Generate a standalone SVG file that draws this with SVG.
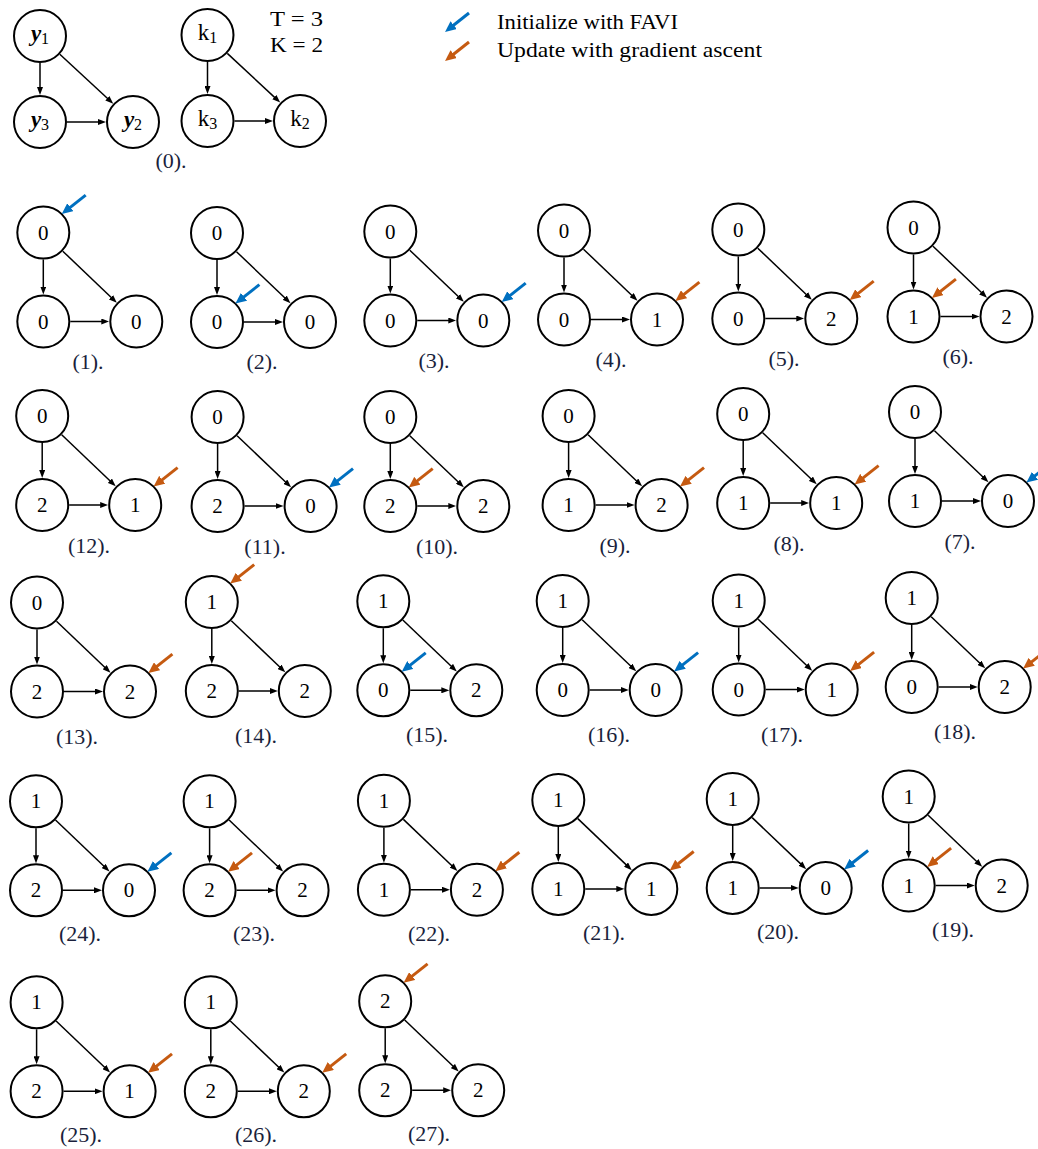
<svg xmlns="http://www.w3.org/2000/svg" width="1038" height="1149" viewBox="0 0 1038 1149">
<style>
.n circle{fill:#fff;stroke:#000;stroke-width:2}
.n text{font-family:"Liberation Serif",serif;font-size:21px;text-anchor:middle;fill:#000}
.n text.v{font-size:23px}
.e{stroke:#000;stroke-width:1.5;fill:none;marker-end:url(#ah)}
.hb{stroke:#0070C0;stroke-width:3;marker-end:url(#mb)}
.ho{stroke:#C55A11;stroke-width:3;marker-end:url(#mo)}
.lbl{font-family:"Liberation Serif",serif;font-size:22px;fill:#1A1F3C;text-anchor:middle}
.leg{font-family:"Liberation Serif",serif;font-size:22px;fill:#000}
.tk{font-family:"Liberation Serif",serif;font-size:21px;fill:#000}
</style>
<defs>
<marker id="ah" markerWidth="8" markerHeight="6" refX="4" refY="3" orient="auto" markerUnits="userSpaceOnUse"><path d="M0,0 L8,3 L0,6 z" fill="#000"/></marker>
<marker id="mb" markerWidth="11" markerHeight="10" refX="3" refY="5" orient="auto" markerUnits="userSpaceOnUse"><path d="M0,0 L11,5 L0,10 z" fill="#0070C0"/></marker>
<marker id="mo" markerWidth="11" markerHeight="10" refX="3" refY="5" orient="auto" markerUnits="userSpaceOnUse"><path d="M0,0 L11,5 L0,10 z" fill="#C55A11"/></marker>
</defs>

<!-- Panel 0 -->
<g id="panel-0">
<g class="connectors">
<line class="e" x1="40" y1="63" x2="40" y2="91"/>
<line class="e" x1="67" y1="122" x2="102" y2="122"/>
<line class="e" x1="59.8" y1="54.3" x2="110.3" y2="101"/>
<line class="e" x1="207.5" y1="62" x2="207.5" y2="90"/>
<line class="e" x1="234.5" y1="121" x2="269" y2="121"/>
<line class="e" x1="227.3" y1="53.4" x2="277.3" y2="99.9"/>
</g>
<g id="y1" class="n" transform="translate(40,36)"><circle r="26"/><text class="v" y="5"><tspan font-weight="bold" font-style="italic">y</tspan><tspan font-size="16" dy="3">1</tspan></text></g>
<g id="y3" class="n" transform="translate(40,122)"><circle r="26"/><text class="v" y="5"><tspan font-weight="bold" font-style="italic">y</tspan><tspan font-size="16" dy="3">3</tspan></text></g>
<g id="y2" class="n" transform="translate(133,122)"><circle r="26"/><text class="v" y="5"><tspan font-weight="bold" font-style="italic">y</tspan><tspan font-size="16" dy="3">2</tspan></text></g>
<g id="k1" class="n" transform="translate(207.5,35)"><circle r="26"/><text class="v" y="5">k<tspan font-size="16" dy="3">1</tspan></text></g>
<g id="k3" class="n" transform="translate(207.5,121)"><circle r="26"/><text class="v" y="5">k<tspan font-size="16" dy="3">3</tspan></text></g>
<g id="k2" class="n" transform="translate(300,121)"><circle r="26"/><text class="v" y="5">k<tspan font-size="16" dy="3">2</tspan></text></g>
<text class="tk" x="270" y="26" textLength="53" lengthAdjust="spacingAndGlyphs">T = 3</text>
<text class="tk" x="270" y="52" textLength="53" lengthAdjust="spacingAndGlyphs">K = 2</text>
<text class="lbl" x="171" y="168">(0).</text>
</g>

<!-- Legend -->
<g id="legend">
<line class="hb" x1="469" y1="13" x2="451.3" y2="27"/>
<text class="leg" x="497" y="29" textLength="181" lengthAdjust="spacingAndGlyphs">Initialize with FAVI</text>
<line class="ho" x1="469" y1="42" x2="451.3" y2="56"/>
<text class="leg" x="497" y="57" textLength="265" lengthAdjust="spacingAndGlyphs">Update with gradient ascent</text>
</g>

<!-- Row 1 -->
<g id="panel-1" transform="translate(43.3,232.5)">
<g class="connectors"><line class="e" x1="0" y1="27" x2="0" y2="58"/><line class="e" x1="19.5" y1="18.7" x2="70.6" y2="67.5"/><line class="e" x1="27" y1="89" x2="62" y2="89"/></g>
<g id="p1-a" class="n"><circle r="26"/><text y="7">0</text></g>
<g id="p1-b" class="n" transform="translate(0,89)"><circle r="26"/><text y="7">0</text></g>
<g id="p1-c" class="n" transform="translate(93,89)"><circle r="26"/><text y="7">0</text></g>
<line class="hb" x1="42.4" y1="-37.4" x2="24.7" y2="-23.4"/>
<text class="lbl" x="44.7" y="136">(1).</text>
</g>
<g id="panel-2" transform="translate(217,233)">
<g class="connectors"><line class="e" x1="0" y1="27" x2="0" y2="58"/><line class="e" x1="19.5" y1="18.7" x2="70.6" y2="67.5"/><line class="e" x1="27" y1="89" x2="62" y2="89"/></g>
<g id="p2-a" class="n"><circle r="26"/><text y="7">0</text></g>
<g id="p2-b" class="n" transform="translate(0,89)"><circle r="26"/><text y="7">0</text></g>
<g id="p2-c" class="n" transform="translate(93,89)"><circle r="26"/><text y="7">0</text></g>
<line class="hb" x1="42.4" y1="51.6" x2="24.7" y2="65.6"/>
<text class="lbl" x="45" y="136">(2).</text>
</g>
<g id="panel-3" transform="translate(390.3,231.5)">
<g class="connectors"><line class="e" x1="0" y1="27" x2="0" y2="58"/><line class="e" x1="19.5" y1="18.7" x2="70.6" y2="67.5"/><line class="e" x1="27" y1="89" x2="62" y2="89"/></g>
<g id="p3-a" class="n"><circle r="26"/><text y="7">0</text></g>
<g id="p3-b" class="n" transform="translate(0,89)"><circle r="26"/><text y="7">0</text></g>
<g id="p3-c" class="n" transform="translate(93,89)"><circle r="26"/><text y="7">0</text></g>
<line class="hb" x1="135.4" y1="51.6" x2="117.7" y2="65.6"/>
<text class="lbl" x="43.7" y="136">(3).</text>
</g>
<g id="panel-4" transform="translate(564,230.5)">
<g class="connectors"><line class="e" x1="0" y1="27" x2="0" y2="58"/><line class="e" x1="19.5" y1="18.7" x2="70.6" y2="67.5"/><line class="e" x1="27" y1="89" x2="62" y2="89"/></g>
<g id="p4-a" class="n"><circle r="26"/><text y="7">0</text></g>
<g id="p4-b" class="n" transform="translate(0,89)"><circle r="26"/><text y="7">0</text></g>
<g id="p4-c" class="n" transform="translate(93,89)"><circle r="26"/><text y="7">1</text></g>
<line class="ho" x1="135.4" y1="51.6" x2="117.7" y2="65.6"/>
<text class="lbl" x="47" y="136">(4).</text>
</g>
<g id="panel-5" transform="translate(738.3,229.5)">
<g class="connectors"><line class="e" x1="0" y1="27" x2="0" y2="58"/><line class="e" x1="19.5" y1="18.7" x2="70.6" y2="67.5"/><line class="e" x1="27" y1="89" x2="62" y2="89"/></g>
<g id="p5-a" class="n"><circle r="26"/><text y="7">0</text></g>
<g id="p5-b" class="n" transform="translate(0,89)"><circle r="26"/><text y="7">0</text></g>
<g id="p5-c" class="n" transform="translate(93,89)"><circle r="26"/><text y="7">2</text></g>
<line class="ho" x1="135.4" y1="51.6" x2="117.7" y2="65.6"/>
<text class="lbl" x="45.7" y="136">(5).</text>
</g>
<g id="panel-6" transform="translate(913.5,227.5)">
<g class="connectors"><line class="e" x1="0" y1="27" x2="0" y2="58"/><line class="e" x1="19.5" y1="18.7" x2="70.6" y2="67.5"/><line class="e" x1="27" y1="89" x2="62" y2="89"/></g>
<g id="p6-a" class="n"><circle r="26"/><text y="7">0</text></g>
<g id="p6-b" class="n" transform="translate(0,89)"><circle r="26"/><text y="7">1</text></g>
<g id="p6-c" class="n" transform="translate(93,89)"><circle r="26"/><text y="7">2</text></g>
<line class="ho" x1="42.4" y1="51.6" x2="24.7" y2="65.6"/>
<text class="lbl" x="44.5" y="136">(6).</text>
</g>

<!-- Row 2 -->
<g id="panel-12" transform="translate(42.2,416)">
<g class="connectors"><line class="e" x1="0" y1="27" x2="0" y2="58"/><line class="e" x1="19.5" y1="18.7" x2="70.6" y2="67.5"/><line class="e" x1="27" y1="89" x2="62" y2="89"/></g>
<g id="p12-a" class="n"><circle r="26"/><text y="7">0</text></g>
<g id="p12-b" class="n" transform="translate(0,89)"><circle r="26"/><text y="7">2</text></g>
<g id="p12-c" class="n" transform="translate(93,89)"><circle r="26"/><text y="7">1</text></g>
<line class="ho" x1="135.4" y1="51.6" x2="117.7" y2="65.6"/>
<text class="lbl" x="46.8" y="137">(12).</text>
</g>
<g id="panel-11" transform="translate(217.6,417)">
<g class="connectors"><line class="e" x1="0" y1="27" x2="0" y2="58"/><line class="e" x1="19.5" y1="18.7" x2="70.6" y2="67.5"/><line class="e" x1="27" y1="89" x2="62" y2="89"/></g>
<g id="p11-a" class="n"><circle r="26"/><text y="7">0</text></g>
<g id="p11-b" class="n" transform="translate(0,89)"><circle r="26"/><text y="7">2</text></g>
<g id="p11-c" class="n" transform="translate(93,89)"><circle r="26"/><text y="7">0</text></g>
<line class="hb" x1="135.4" y1="51.6" x2="117.7" y2="65.6"/>
<text class="lbl" x="47.4" y="137">(11).</text>
</g>
<g id="panel-10" transform="translate(390.3,417)">
<g class="connectors"><line class="e" x1="0" y1="27" x2="0" y2="58"/><line class="e" x1="19.5" y1="18.7" x2="70.6" y2="67.5"/><line class="e" x1="27" y1="89" x2="62" y2="89"/></g>
<g id="p10-a" class="n"><circle r="26"/><text y="7">0</text></g>
<g id="p10-b" class="n" transform="translate(0,89)"><circle r="26"/><text y="7">2</text></g>
<g id="p10-c" class="n" transform="translate(93,89)"><circle r="26"/><text y="7">2</text></g>
<line class="ho" x1="42.4" y1="51.6" x2="24.7" y2="65.6"/>
<text class="lbl" x="46.7" y="137">(10).</text>
</g>
<g id="panel-9" transform="translate(568.6,416)">
<g class="connectors"><line class="e" x1="0" y1="27" x2="0" y2="58"/><line class="e" x1="19.5" y1="18.7" x2="70.6" y2="67.5"/><line class="e" x1="27" y1="89" x2="62" y2="89"/></g>
<g id="p9-a" class="n"><circle r="26"/><text y="7">0</text></g>
<g id="p9-b" class="n" transform="translate(0,89)"><circle r="26"/><text y="7">1</text></g>
<g id="p9-c" class="n" transform="translate(93,89)"><circle r="26"/><text y="7">2</text></g>
<line class="ho" x1="135.4" y1="51.6" x2="117.7" y2="65.6"/>
<text class="lbl" x="46.4" y="137">(9).</text>
</g>
<g id="panel-8" transform="translate(743.2,414)">
<g class="connectors"><line class="e" x1="0" y1="27" x2="0" y2="58"/><line class="e" x1="19.5" y1="18.7" x2="70.6" y2="67.5"/><line class="e" x1="27" y1="89" x2="62" y2="89"/></g>
<g id="p8-a" class="n"><circle r="26"/><text y="7">0</text></g>
<g id="p8-b" class="n" transform="translate(0,89)"><circle r="26"/><text y="7">1</text></g>
<g id="p8-c" class="n" transform="translate(93,89)"><circle r="26"/><text y="7">1</text></g>
<line class="ho" x1="135.4" y1="51.6" x2="117.7" y2="65.6"/>
<text class="lbl" x="45.8" y="137">(8).</text>
</g>
<g id="panel-7" transform="translate(915,412)">
<g class="connectors"><line class="e" x1="0" y1="27" x2="0" y2="58"/><line class="e" x1="19.5" y1="18.7" x2="70.6" y2="67.5"/><line class="e" x1="27" y1="89" x2="62" y2="89"/></g>
<g id="p7-a" class="n"><circle r="26"/><text y="7">0</text></g>
<g id="p7-b" class="n" transform="translate(0,89)"><circle r="26"/><text y="7">1</text></g>
<g id="p7-c" class="n" transform="translate(93,89)"><circle r="26"/><text y="7">0</text></g>
<line class="hb" x1="135.4" y1="51.6" x2="117.7" y2="65.6"/>
<text class="lbl" x="45" y="137">(7).</text>
</g>

<!-- Row 3 -->
<g id="panel-13" transform="translate(37,602.5)">
<g class="connectors"><line class="e" x1="0" y1="27" x2="0" y2="58"/><line class="e" x1="19.5" y1="18.7" x2="70.6" y2="67.5"/><line class="e" x1="27" y1="89" x2="62" y2="89"/></g>
<g id="p13-a" class="n"><circle r="26"/><text y="7">0</text></g>
<g id="p13-b" class="n" transform="translate(0,89)"><circle r="26"/><text y="7">2</text></g>
<g id="p13-c" class="n" transform="translate(93,89)"><circle r="26"/><text y="7">2</text></g>
<line class="ho" x1="135.4" y1="51.6" x2="117.7" y2="65.6"/>
<text class="lbl" x="40" y="141">(13).</text>
</g>
<g id="panel-14" transform="translate(211.8,602)">
<g class="connectors"><line class="e" x1="0" y1="27" x2="0" y2="58"/><line class="e" x1="19.5" y1="18.7" x2="70.6" y2="67.5"/><line class="e" x1="27" y1="89" x2="62" y2="89"/></g>
<g id="p14-a" class="n"><circle r="26"/><text y="7">1</text></g>
<g id="p14-b" class="n" transform="translate(0,89)"><circle r="26"/><text y="7">2</text></g>
<g id="p14-c" class="n" transform="translate(93,89)"><circle r="26"/><text y="7">2</text></g>
<line class="ho" x1="42.4" y1="-37.4" x2="24.7" y2="-23.4"/>
<text class="lbl" x="44.2" y="141">(14).</text>
</g>
<g id="panel-15" transform="translate(383.3,601.3)">
<g class="connectors"><line class="e" x1="0" y1="27" x2="0" y2="58"/><line class="e" x1="19.5" y1="18.7" x2="70.6" y2="67.5"/><line class="e" x1="27" y1="89" x2="62" y2="89"/></g>
<g id="p15-a" class="n"><circle r="26"/><text y="7">1</text></g>
<g id="p15-b" class="n" transform="translate(0,89)"><circle r="26"/><text y="7">0</text></g>
<g id="p15-c" class="n" transform="translate(93,89)"><circle r="26"/><text y="7">2</text></g>
<line class="hb" x1="42.4" y1="51.6" x2="24.7" y2="65.6"/>
<text class="lbl" x="43.7" y="141">(15).</text>
</g>
<g id="panel-16" transform="translate(562.7,601)">
<g class="connectors"><line class="e" x1="0" y1="27" x2="0" y2="58"/><line class="e" x1="19.5" y1="18.7" x2="70.6" y2="67.5"/><line class="e" x1="27" y1="89" x2="62" y2="89"/></g>
<g id="p16-a" class="n"><circle r="26"/><text y="7">1</text></g>
<g id="p16-b" class="n" transform="translate(0,89)"><circle r="26"/><text y="7">0</text></g>
<g id="p16-c" class="n" transform="translate(93,89)"><circle r="26"/><text y="7">0</text></g>
<line class="hb" x1="135.4" y1="51.6" x2="117.7" y2="65.6"/>
<text class="lbl" x="46.3" y="141">(16).</text>
</g>
<g id="panel-17" transform="translate(738.7,600.5)">
<g class="connectors"><line class="e" x1="0" y1="27" x2="0" y2="58"/><line class="e" x1="19.5" y1="18.7" x2="70.6" y2="67.5"/><line class="e" x1="27" y1="89" x2="62" y2="89"/></g>
<g id="p17-a" class="n"><circle r="26"/><text y="7">1</text></g>
<g id="p17-b" class="n" transform="translate(0,89)"><circle r="26"/><text y="7">0</text></g>
<g id="p17-c" class="n" transform="translate(93,89)"><circle r="26"/><text y="7">1</text></g>
<line class="ho" x1="135.4" y1="51.6" x2="117.7" y2="65.6"/>
<text class="lbl" x="43.3" y="141">(17).</text>
</g>
<g id="panel-18" transform="translate(911.7,598)">
<g class="connectors"><line class="e" x1="0" y1="27" x2="0" y2="58"/><line class="e" x1="19.5" y1="18.7" x2="70.6" y2="67.5"/><line class="e" x1="27" y1="89" x2="62" y2="89"/></g>
<g id="p18-a" class="n"><circle r="26"/><text y="7">1</text></g>
<g id="p18-b" class="n" transform="translate(0,89)"><circle r="26"/><text y="7">0</text></g>
<g id="p18-c" class="n" transform="translate(93,89)"><circle r="26"/><text y="7">2</text></g>
<line class="ho" x1="135.4" y1="51.6" x2="117.7" y2="65.6"/>
<text class="lbl" x="43.3" y="141">(18).</text>
</g>

<!-- Row 4 -->
<g id="panel-24" transform="translate(36,801.3)">
<g class="connectors"><line class="e" x1="0" y1="27" x2="0" y2="58"/><line class="e" x1="19.5" y1="18.7" x2="70.6" y2="67.5"/><line class="e" x1="27" y1="89" x2="62" y2="89"/></g>
<g id="p24-a" class="n"><circle r="26"/><text y="7">1</text></g>
<g id="p24-b" class="n" transform="translate(0,89)"><circle r="26"/><text y="7">2</text></g>
<g id="p24-c" class="n" transform="translate(93,89)"><circle r="26"/><text y="7">0</text></g>
<line class="hb" x1="135.4" y1="51.6" x2="117.7" y2="65.6"/>
<text class="lbl" x="44" y="140">(24).</text>
</g>
<g id="panel-23" transform="translate(209.6,801.3)">
<g class="connectors"><line class="e" x1="0" y1="27" x2="0" y2="58"/><line class="e" x1="19.5" y1="18.7" x2="70.6" y2="67.5"/><line class="e" x1="27" y1="89" x2="62" y2="89"/></g>
<g id="p23-a" class="n"><circle r="26"/><text y="7">1</text></g>
<g id="p23-b" class="n" transform="translate(0,89)"><circle r="26"/><text y="7">2</text></g>
<g id="p23-c" class="n" transform="translate(93,89)"><circle r="26"/><text y="7">2</text></g>
<line class="ho" x1="42.4" y1="51.6" x2="24.7" y2="65.6"/>
<text class="lbl" x="44.4" y="140">(23).</text>
</g>
<g id="panel-22" transform="translate(383.9,800.7)">
<g class="connectors"><line class="e" x1="0" y1="27" x2="0" y2="58"/><line class="e" x1="19.5" y1="18.7" x2="70.6" y2="67.5"/><line class="e" x1="27" y1="89" x2="62" y2="89"/></g>
<g id="p22-a" class="n"><circle r="26"/><text y="7">1</text></g>
<g id="p22-b" class="n" transform="translate(0,89)"><circle r="26"/><text y="7">1</text></g>
<g id="p22-c" class="n" transform="translate(93,89)"><circle r="26"/><text y="7">2</text></g>
<line class="ho" x1="135.4" y1="51.6" x2="117.7" y2="65.6"/>
<text class="lbl" x="45.1" y="140">(22).</text>
</g>
<g id="panel-21" transform="translate(558.3,799.9)">
<g class="connectors"><line class="e" x1="0" y1="27" x2="0" y2="58"/><line class="e" x1="19.5" y1="18.7" x2="70.6" y2="67.5"/><line class="e" x1="27" y1="89" x2="62" y2="89"/></g>
<g id="p21-a" class="n"><circle r="26"/><text y="7">1</text></g>
<g id="p21-b" class="n" transform="translate(0,89)"><circle r="26"/><text y="7">1</text></g>
<g id="p21-c" class="n" transform="translate(93,89)"><circle r="26"/><text y="7">1</text></g>
<line class="ho" x1="135.4" y1="51.6" x2="117.7" y2="65.6"/>
<text class="lbl" x="45.7" y="140">(21).</text>
</g>
<g id="panel-20" transform="translate(732.7,798.9)">
<g class="connectors"><line class="e" x1="0" y1="27" x2="0" y2="58"/><line class="e" x1="19.5" y1="18.7" x2="70.6" y2="67.5"/><line class="e" x1="27" y1="89" x2="62" y2="89"/></g>
<g id="p20-a" class="n"><circle r="26"/><text y="7">1</text></g>
<g id="p20-b" class="n" transform="translate(0,89)"><circle r="26"/><text y="7">1</text></g>
<g id="p20-c" class="n" transform="translate(93,89)"><circle r="26"/><text y="7">0</text></g>
<line class="hb" x1="135.4" y1="51.6" x2="117.7" y2="65.6"/>
<text class="lbl" x="45.3" y="140">(20).</text>
</g>
<g id="panel-19" transform="translate(908.7,796.5)">
<g class="connectors"><line class="e" x1="0" y1="27" x2="0" y2="58"/><line class="e" x1="19.5" y1="18.7" x2="70.6" y2="67.5"/><line class="e" x1="27" y1="89" x2="62" y2="89"/></g>
<g id="p19-a" class="n"><circle r="26"/><text y="7">1</text></g>
<g id="p19-b" class="n" transform="translate(0,89)"><circle r="26"/><text y="7">1</text></g>
<g id="p19-c" class="n" transform="translate(93,89)"><circle r="26"/><text y="7">2</text></g>
<line class="ho" x1="42.4" y1="51.6" x2="24.7" y2="65.6"/>
<text class="lbl" x="44.3" y="140">(19).</text>
</g>

<!-- Row 5 -->
<g id="panel-25" transform="translate(36.6,1002.3)">
<g class="connectors"><line class="e" x1="0" y1="27" x2="0" y2="58"/><line class="e" x1="19.5" y1="18.7" x2="70.6" y2="67.5"/><line class="e" x1="27" y1="89" x2="62" y2="89"/></g>
<g id="p25-a" class="n"><circle r="26"/><text y="7">1</text></g>
<g id="p25-b" class="n" transform="translate(0,89)"><circle r="26"/><text y="7">2</text></g>
<g id="p25-c" class="n" transform="translate(93,89)"><circle r="26"/><text y="7">1</text></g>
<line class="ho" x1="135.4" y1="51.6" x2="117.7" y2="65.6"/>
<text class="lbl" x="44.4" y="140">(25).</text>
</g>
<g id="panel-26" transform="translate(210.8,1002.3)">
<g class="connectors"><line class="e" x1="0" y1="27" x2="0" y2="58"/><line class="e" x1="19.5" y1="18.7" x2="70.6" y2="67.5"/><line class="e" x1="27" y1="89" x2="62" y2="89"/></g>
<g id="p26-a" class="n"><circle r="26"/><text y="7">1</text></g>
<g id="p26-b" class="n" transform="translate(0,89)"><circle r="26"/><text y="7">2</text></g>
<g id="p26-c" class="n" transform="translate(93,89)"><circle r="26"/><text y="7">2</text></g>
<line class="ho" x1="135.4" y1="51.6" x2="117.7" y2="65.6"/>
<text class="lbl" x="45.2" y="140">(26).</text>
</g>
<g id="panel-27" transform="translate(385.2,1001.3)">
<g class="connectors"><line class="e" x1="0" y1="27" x2="0" y2="58"/><line class="e" x1="19.5" y1="18.7" x2="70.6" y2="67.5"/><line class="e" x1="27" y1="89" x2="62" y2="89"/></g>
<g id="p27-a" class="n"><circle r="26"/><text y="7">2</text></g>
<g id="p27-b" class="n" transform="translate(0,89)"><circle r="26"/><text y="7">2</text></g>
<g id="p27-c" class="n" transform="translate(93,89)"><circle r="26"/><text y="7">2</text></g>
<line class="ho" x1="42.4" y1="-37.4" x2="24.7" y2="-23.4"/>
<text class="lbl" x="43.8" y="140">(27).</text>
</g>
</svg>
